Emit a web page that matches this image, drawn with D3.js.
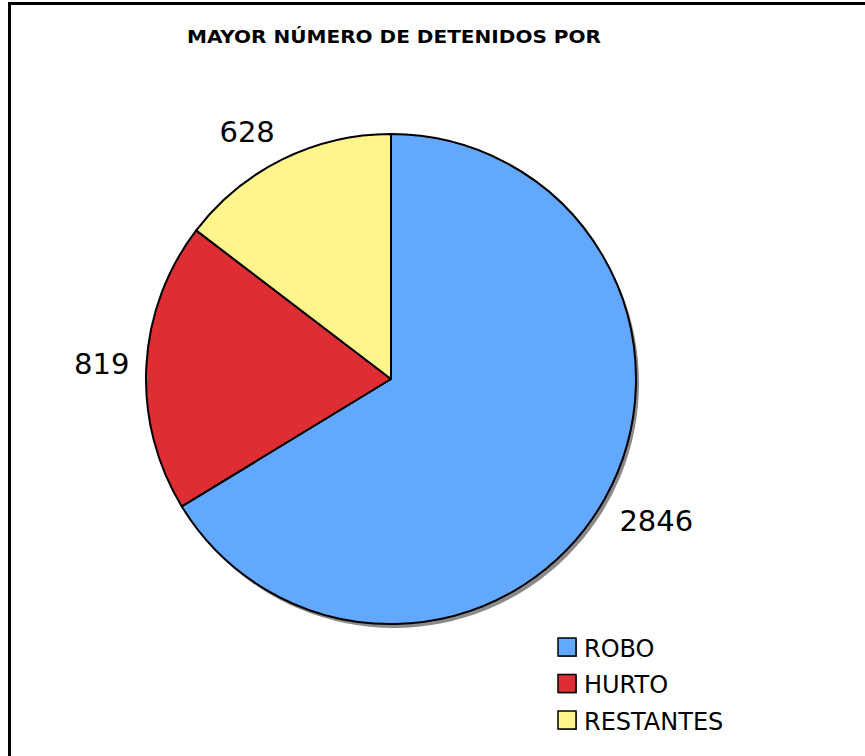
<!DOCTYPE html>
<html>
<head>
<meta charset="utf-8">
<script src="https://cdn.jsdelivr.net/npm/d3@7/dist/d3.min.js"></script>
<style>
  html, body { margin: 0; padding: 0; background: #fff; }
  svg { display: block; }
</style>
</head>
<body>
<svg id="chart" width="865" height="756"></svg>
<script>
const title = "MAYOR NÚMERO DE DETENIDOS POR";
const categories = ["ROBO", "HURTO", "RESTANTES"];
const values = [2846, 819, 628];
const colors = ["#63A8FF", "#DE2E34", "#FFF58C"];

const svg = d3.select("#chart");
const W = 865, H = 756;

// frame
svg.append("rect")
  .attr("x", 9.5).attr("y", 3.5)
  .attr("width", W + 20).attr("height", H + 20)
  .attr("fill", "#fff").attr("stroke", "#000").attr("stroke-width", 3);

// title
svg.append("text")
  .attr("x", 394).attr("y", 43)
  .attr("text-anchor", "middle")
  .attr("font-family", "'DejaVu Sans Condensed', 'DejaVu Sans', Verdana, sans-serif")
  .attr("font-weight", "bold")
  .attr("font-size", 18.5)
  .attr("textLength", 414)
  .attr("lengthAdjust", "spacingAndGlyphs")
  .text(title);

const cx = 391, cy = 379, r = 245;
const g = svg.append("g").attr("transform", `translate(${cx},${cy})`);

const pie = d3.pie().sort(null).value(d => d.v);
const data = pie(categories.map((c, i) => ({ c, v: values[i], col: colors[i] })));
const arc = d3.arc().innerRadius(0).outerRadius(r);

// shadow
g.append("circle")
  .attr("cx", 3).attr("cy", 4).attr("r", r)
  .attr("fill", "#8a8a8a");

g.selectAll("path.slice")
  .data(data)
  .enter().append("path")
  .attr("class", "slice")
  .attr("d", arc)
  .attr("fill", d => d.data.col)
  .attr("stroke", "#000")
  .attr("stroke-width", 2)
  .attr("stroke-linejoin", "round");

// value labels: anchor point just outside the rim, box pushed outward
const labelFont = 29;
const labelDist = r + 17;
const clamp = v => Math.max(-1, Math.min(1, v));
const vl = g.selectAll("text.val")
  .data(data)
  .enter().append("text")
  .attr("class", "val")
  .attr("font-family", "DejaVu Sans, Verdana, sans-serif")
  .attr("font-size", labelFont)
  .attr("fill", "#000")
  .attr("text-anchor", "middle")
  .text(d => d.data.v);
vl.each(function(d) {
  const a = (d.startAngle + d.endAngle) / 2;
  const s = Math.sin(a), c = -Math.cos(a);
  const px = labelDist * s, py = labelDist * c;
  const w = this.getComputedTextLength();
  const h = labelFont * 0.73;
  const x = px + clamp(s * 2.5) * w * 0.5;
  const y = py + clamp(c * 2.5) * h * 0.6;
  d3.select(this).attr("x", x).attr("y", y + h / 2);
});

// legend
const lg = svg.append("g").attr("transform", "translate(558,638)");
const items = lg.selectAll("g.item")
  .data(data)
  .enter().append("g")
  .attr("class", "item")
  .attr("transform", (d, i) => `translate(0,${i * 36.5})`);
items.append("rect")
  .attr("x", 1).attr("y", 1)
  .attr("width", 18).attr("height", 18)
  .attr("fill", "#777");
items.append("rect")
  .attr("x", 0).attr("y", 0)
  .attr("width", 18).attr("height", 18)
  .attr("fill", d => d.data.col)
  .attr("stroke", "#000").attr("stroke-width", 1.5);
items.append("text")
  .attr("x", 26).attr("y", 18.5)
  .attr("font-family", "DejaVu Sans, Verdana, sans-serif")
  .attr("font-size", 24)
  .attr("fill", "#000")
  .text(d => d.data.c);
</script>
</body>
</html>
